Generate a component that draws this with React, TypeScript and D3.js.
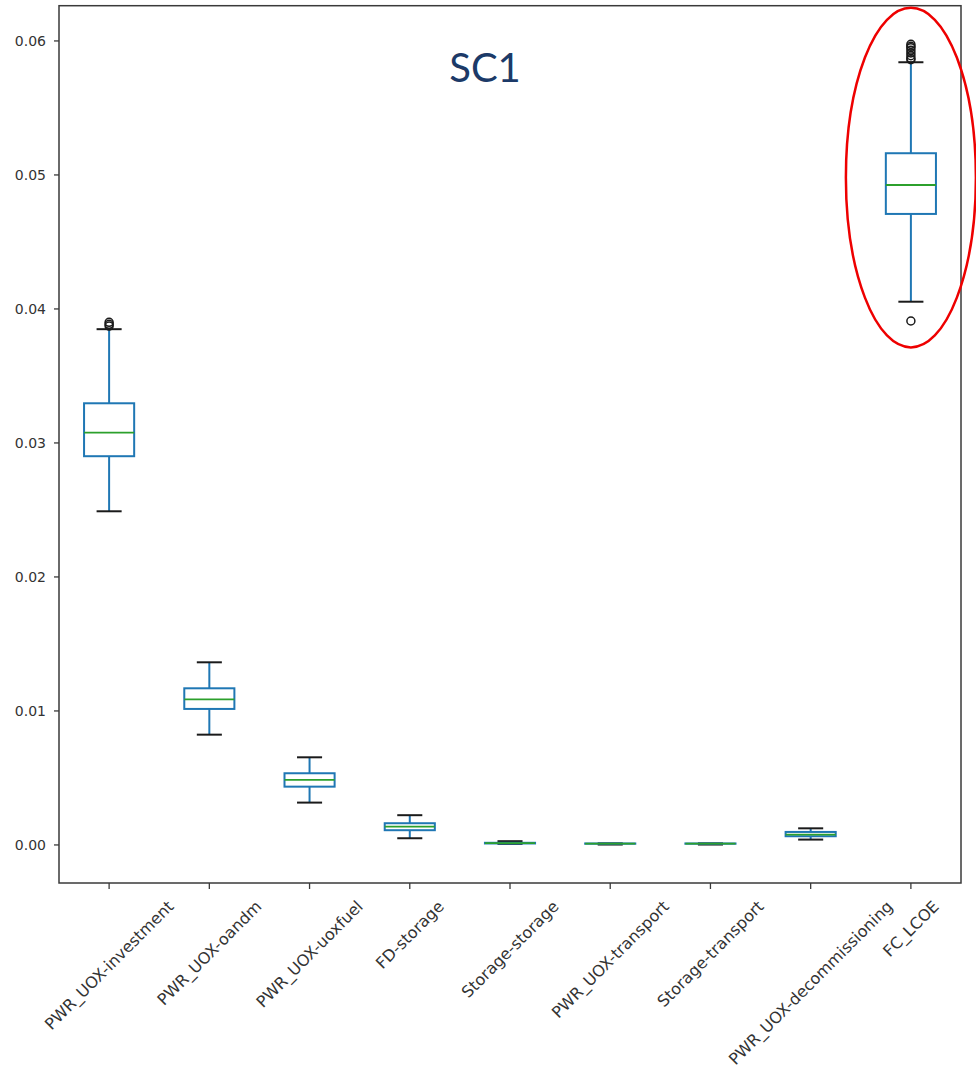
import React, { useEffect, useRef } from 'react';
import * as d3 from 'd3';

const categories = [
  'PWR_UOX-investment',
  'PWR_UOX-oandm',
  'PWR_UOX-uoxfuel',
  'FD-storage',
  'Storage-storage',
  'PWR_UOX-transport',
  'Storage-transport',
  'PWR_UOX-decommissioning',
  'FC_LCOE',
];

// box stats
const whiskerLow = [0.0249, 0.00823, 0.00316, 0.0005, 0.00008, 0.00003, 0.00003, 0.0004, 0.04054];
const q1 = [0.02901, 0.01015, 0.00435, 0.0011, 0.00011, 0.00009, 0.00009, 0.00065, 0.04709];
const median = [0.03077, 0.01087, 0.00485, 0.00137, 0.00013, 0.0001, 0.0001, 0.00077, 0.04925];
const q3 = [0.03296, 0.01169, 0.00535, 0.00162, 0.00016, 0.00011, 0.00011, 0.00097, 0.05162];
const whiskerHigh = [0.03849, 0.01363, 0.00654, 0.00222, 0.00028, 0.00012, 0.00012, 0.00124, 0.05841];

const fliers: [string, number][] = [
  ['PWR_UOX-investment', 0.039],
  ['PWR_UOX-investment', 0.03885],
  ['PWR_UOX-investment', 0.03872],
  ['FC_LCOE', 0.05975],
  ['FC_LCOE', 0.0596],
  ['FC_LCOE', 0.0595],
  ['FC_LCOE', 0.0593],
  ['FC_LCOE', 0.0591],
  ['FC_LCOE', 0.0589],
  ['FC_LCOE', 0.0587],
  ['FC_LCOE', 0.0586],
  ['FC_LCOE', 0.0391],
];

const yTicks = [0, 0.01, 0.02, 0.03, 0.04, 0.05, 0.06];
const yDomain: [number, number] = [-0.00284, 0.06263];

const W = 976;
const H = 1068;
const m = { l: 59, r: 15, t: 5.7, b: 185 };

export default function App() {
  const ref = useRef<SVGSVGElement | null>(null);

  useEffect(() => {
    const svg = d3.select(ref.current);
    svg.selectAll('*').remove();

    const x = d3.scaleBand().domain(categories).range([m.l, W - m.r]).padding(0);
    const y = d3.scaleLinear().domain(yDomain).range([H - m.b, m.t]);
    const bw = x.bandwidth();
    const cx = (c: string) => (x(c) || 0) + bw / 2;
    const axisCol = '#3a3a3a';
    const blue = '#1f77b4';

    const rows = categories.map((c, i) => ({
      c,
      lo: whiskerLow[i],
      q1: q1[i],
      med: median[i],
      q3: q3[i],
      hi: whiskerHigh[i],
    }));

    const g = svg.append('g');

    // whiskers
    g.selectAll('line.wl')
      .data(rows)
      .join('line')
      .attr('x1', (d) => cx(d.c))
      .attr('x2', (d) => cx(d.c))
      .attr('y1', (d) => y(d.q1))
      .attr('y2', (d) => y(d.lo))
      .attr('stroke', blue)
      .attr('stroke-width', 2);
    g.selectAll('line.wh')
      .data(rows)
      .join('line')
      .attr('x1', (d) => cx(d.c))
      .attr('x2', (d) => cx(d.c))
      .attr('y1', (d) => y(d.q3))
      .attr('y2', (d) => y(d.hi))
      .attr('stroke', blue)
      .attr('stroke-width', 2);

    // caps
    for (const key of ['lo', 'hi'] as const) {
      g.append('g')
        .selectAll('line')
        .data(rows)
        .join('line')
        .attr('x1', (d) => cx(d.c) - bw / 8)
        .attr('x2', (d) => cx(d.c) + bw / 8)
        .attr('y1', (d) => y(d[key]))
        .attr('y2', (d) => y(d[key]))
        .attr('stroke', '#1a1a1a')
        .attr('stroke-width', 2);
    }

    // boxes
    g.append('g')
      .selectAll('rect')
      .data(rows)
      .join('rect')
      .attr('x', (d) => cx(d.c) - bw / 4)
      .attr('width', bw / 2)
      .attr('y', (d) => y(d.q3))
      .attr('height', (d) => Math.max(0, y(d.q1) - y(d.q3)))
      .attr('fill', 'none')
      .attr('stroke', blue)
      .attr('stroke-width', 2);

    // medians
    g.append('g')
      .selectAll('line')
      .data(rows)
      .join('line')
      .attr('x1', (d) => cx(d.c) - bw / 4)
      .attr('x2', (d) => cx(d.c) + bw / 4)
      .attr('y1', (d) => y(d.med))
      .attr('y2', (d) => y(d.med))
      .attr('stroke', '#2ca02c')
      .attr('stroke-width', 1.8);

    // fliers
    g.append('g')
      .selectAll('circle')
      .data(fliers)
      .join('circle')
      .attr('cx', (d) => cx(d[0]))
      .attr('cy', (d) => y(d[1]))
      .attr('r', 4)
      .attr('fill', 'none')
      .attr('stroke', '#1a1a1a')
      .attr('stroke-width', 1.5);

    // frame
    svg.append('rect')
      .attr('x', m.l)
      .attr('y', m.t)
      .attr('width', W - m.r - m.l)
      .attr('height', H - m.b - m.t)
      .attr('fill', 'none')
      .attr('stroke', axisCol)
      .attr('stroke-width', 1.5);

    // y axis
    const ya = svg.append('g');
    ya.selectAll('line')
      .data(yTicks)
      .join('line')
      .attr('x1', m.l - 5)
      .attr('x2', m.l)
      .attr('y1', (d) => y(d))
      .attr('y2', (d) => y(d))
      .attr('stroke', axisCol)
      .attr('stroke-width', 1.3);
    ya.selectAll('text')
      .data(yTicks)
      .join('text')
      .attr('x', m.l - 13)
      .attr('y', (d) => y(d))
      .attr('dy', '0.35em')
      .attr('text-anchor', 'end')
      .attr('font-family', 'DejaVu Sans')
      .attr('font-size', 14)
      .attr('fill', '#333')
      .text((d) => d3.format('.2f')(d));

    // x axis
    const xa = svg.append('g');
    const base = H - m.b;
    xa.selectAll('line')
      .data(categories)
      .join('line')
      .attr('x1', (d) => cx(d))
      .attr('x2', (d) => cx(d))
      .attr('y1', base)
      .attr('y2', base + 6)
      .attr('stroke', axisCol)
      .attr('stroke-width', 1.3);

    const fs = 16;
    const labelTop = base + 16;
    categories.forEach((c) => {
      const t = xa
        .append('text')
        .attr('text-anchor', 'middle')
        .attr('dy', '0.35em')
        .attr('font-family', 'DejaVu Sans')
        .attr('font-size', fs)
        .attr('fill', '#333')
        .text(c);
      const L = (t.node() as SVGTextElement).getComputedTextLength();
      const half = (L + fs * 0.8) / (2 * Math.SQRT2);
      const px = cx(c);
      const py = labelTop + half;
      t.attr('x', px).attr('y', py).attr('transform', `rotate(-45, ${px}, ${py})`);
    });

    // annotation ellipse around FC_LCOE
    const eTop = y(0.06247);
    const eBot = y(0.03713);
    svg.append('ellipse')
      .attr('cx', cx('FC_LCOE'))
      .attr('cy', (eTop + eBot) / 2)
      .attr('rx', 65)
      .attr('ry', (eBot - eTop) / 2)
      .attr('fill', 'none')
      .attr('stroke', '#ee0000')
      .attr('stroke-width', 2.5);

    // title
    svg.append('text')
      .attr('x', 485)
      .attr('y', 82)
      .attr('text-anchor', 'middle')
      .attr('font-family', 'Lato')
      .attr('font-size', 40)
      .attr('fill', '#1c3a68')
      .text('SC1');
  }, []);

  return (
    <svg
      ref={ref}
      width={W}
      height={H}
      style={{ position: 'absolute', left: 0, top: 0, background: '#fff' }}
    />
  );
}
